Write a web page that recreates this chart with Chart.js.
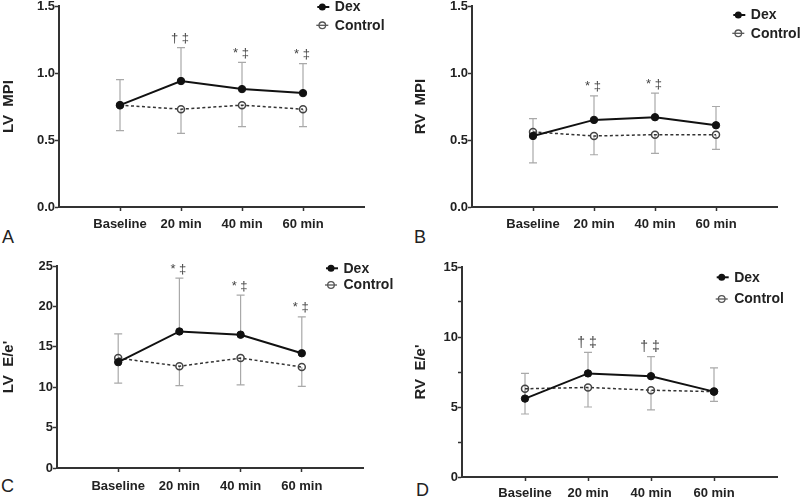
<!DOCTYPE html>
<html><head><meta charset="utf-8">
<script src="https://cdn.jsdelivr.net/npm/chart.js@4.4.1/dist/chart.umd.min.js"></script>
<style>
html,body{margin:0;padding:0;background:#fff;width:800px;height:499px;overflow:hidden;position:relative}
canvas{position:absolute}
.lbl{position:absolute;font:18px 'Liberation Sans',Arial,sans-serif;color:#222;line-height:18px}
</style></head><body>
<div class="lbl" style="left:2px;top:228px">A</div>
<div class="lbl" style="left:414px;top:228px">B</div>
<div class="lbl" style="left:1px;top:477px">C</div>
<div class="lbl" style="left:416px;top:481px">D</div>
<script>
const FAMILY = "'Liberation Sans', Arial, sans-serif";
const categories = ['Baseline', '20 min', '40 min', '60 min'];
const seriesNames = ['Dex', 'Control'];

// A: LV MPI
const lvMpiDex = [0.76, 0.94, 0.88, 0.85];
const lvMpiCtl = [0.76, 0.73, 0.76, 0.73];
const lvMpiDexUpper = [0.95, 1.19, 1.08, 1.07];
const lvMpiCtlLower = [0.57, 0.55, 0.60, 0.60];
const lvMpiMarks = ['', '† ‡', '* ‡', '* ‡'];
const lvMpiTicks = [0, 0.5, 1.0, 1.5];
const lvMpiTickLabels = ['0.0', '0.5', '1.0', '1.5'];

// B: RV MPI
const rvMpiDex = [0.53, 0.65, 0.67, 0.61];
const rvMpiCtl = [0.56, 0.53, 0.54, 0.54];
const rvMpiDexUpper = [0.66, 0.83, 0.85, 0.75];
const rvMpiCtlLower = [0.33, 0.39, 0.40, 0.43];
const rvMpiMarks = ['', '* ‡', '* ‡', ''];
const rvMpiTicks = [0, 0.5, 1.0, 1.5];
const rvMpiTickLabels = ['0.0', '0.5', '1.0', '1.5'];

// C: LV E/e'
const lvEeDex = [13.1, 16.9, 16.5, 14.2];
const lvEeCtl = [13.6, 12.6, 13.6, 12.5];
const lvEeDexUpper = [16.6, 23.5, 21.4, 18.7];
const lvEeCtlLower = [10.5, 10.2, 10.3, 10.1];
const lvEeMarks = ['', '* ‡', '* ‡', '* ‡'];
const lvEeTicks = [0, 5, 10, 15, 20, 25];
const lvEeTickLabels = ['0', '5', '10', '15', '20', '25'];

// D: RV E/e'
const rvEeDex = [5.6, 7.4, 7.2, 6.1];
const rvEeCtl = [6.3, 6.4, 6.2, 6.1];
const rvEeDexUpper = [7.4, 8.9, 8.6, 7.8];
const rvEeCtlLower = [4.5, 5.0, 4.8, 5.4];
const rvEeMarks = ['', '† ‡', '† ‡', ''];
const rvEeTicks = [0, 2.5, 5, 7.5, 10, 12.5, 15];
const rvEeTickLabels = ['0', '', '5', '', '10', '', '15'];

const panels = [
  {title: 'LV  MPI', dex: lvMpiDex, ctl: lvMpiCtl, up: lvMpiDexUpper, lo: lvMpiCtlLower, marks: lvMpiMarks,
   yTicks: lvMpiTicks, yLabels: lvMpiTickLabels, yMax: 1.5,
   cl: 0, padLeft: 0, area: {l: 59, t: 6, r: 364, b: 207}, xPad: 6, markSize: 13,
   legend: {dx: -41.7, dy1: 1, dy2: 19.3}},
  {title: 'RV  MPI', dex: rvMpiDex, ctl: rvMpiCtl, up: rvMpiDexUpper, lo: rvMpiCtlLower, marks: rvMpiMarks,
   yTicks: rvMpiTicks, yLabels: rvMpiTickLabels, yMax: 1.5,
   cl: 400, padLeft: 12, area: {l: 472, t: 6, r: 777, b: 207}, xPad: 6, markSize: 13,
   legend: {dx: -38.7, dy1: 9, dy2: 27.3}},
  {title: "LV  E/e'", dex: lvEeDex, ctl: lvEeCtl, up: lvEeDexUpper, lo: lvEeCtlLower, marks: lvEeMarks,
   yTicks: lvEeTicks, yLabels: lvEeTickLabels, yMax: 25,
   cl: 0, padLeft: 0, area: {l: 57, t: 266, r: 363, b: 468}, xPad: 7, markSize: 13,
   legend: {dx: -32, dy1: 2.3, dy2: 19}},
  {title: "RV  E/e'", dex: rvEeDex, ctl: rvEeCtl, up: rvEeDexUpper, lo: rvEeCtlLower, marks: rvEeMarks,
   yTicks: rvEeTicks, yLabels: rvEeTickLabels, yMax: 15,
   cl: 400, padLeft: 12, area: {l: 462, t: 267, r: 777, b: 477}, xPad: 5, markSize: 14,
   legend: {dx: -55.3, dy1: 10.3, dy2: 32}}
];

function makeExtras(p) {
  return {
    id: 'extras',
    beforeDatasetsDraw(chart) {
      const ctx = chart.ctx, xs = chart.scales.x, ys = chart.scales.y;
      ctx.save();
      ctx.strokeStyle = '#a9a9a9';
      ctx.lineWidth = 1.2;
      const seg = (x, y0, y1) => {
        ctx.beginPath();
        ctx.moveTo(x, y0); ctx.lineTo(x, y1);
        ctx.moveTo(x - 4, y1); ctx.lineTo(x + 4, y1);
        ctx.stroke();
      };
      p.dex.forEach((v, i) => {
        const x = xs.getPixelForValue(i + 1);
        seg(x, ys.getPixelForValue(v), ys.getPixelForValue(p.up[i]));
        seg(x, ys.getPixelForValue(p.ctl[i]), ys.getPixelForValue(p.lo[i]));
      });
      ctx.restore();
    },
    afterDatasetsDraw(chart) {
      const ctx = chart.ctx, xs = chart.scales.x, ys = chart.scales.y, ca = chart.chartArea;
      ctx.save();
      // significance marks
      ctx.fillStyle = '#444';
      ctx.font = p.markSize + 'px ' + FAMILY;
      ctx.textAlign = 'center';
      ctx.textBaseline = 'middle';
      p.marks.forEach((m, i) => {
        if (!m) return;
        const x = xs.getPixelForValue(i + 1) - 1;
        const y = ys.getPixelForValue(p.up[i]) - 9;
        ctx.fillText(m, x, y);
      });
      // legend
      const mx = ca.right + p.legend.dx;
      const rows = [ca.top + p.legend.dy1, ca.top + p.legend.dy2];
      ctx.textAlign = 'left';
      ctx.font = 'bold 14px ' + FAMILY;
      // Dex
      ctx.strokeStyle = '#111'; ctx.lineWidth = 2;
      ctx.beginPath(); ctx.moveTo(mx - 5, rows[0]); ctx.lineTo(mx + 7, rows[0]); ctx.stroke();
      ctx.fillStyle = '#111';
      ctx.beginPath(); ctx.arc(mx, rows[0], 3.5, 0, Math.PI * 2); ctx.fill();
      ctx.fillStyle = '#222';
      ctx.fillText(seriesNames[0], mx + 12.5, rows[0] + 0.5);
      // Control
      ctx.strokeStyle = '#555'; ctx.lineWidth = 1.3;
      ctx.beginPath(); ctx.moveTo(mx - 6, rows[1]); ctx.lineTo(mx + 6, rows[1]); ctx.stroke();
      ctx.beginPath(); ctx.arc(mx, rows[1], 3.3, 0, Math.PI * 2); ctx.stroke();
      ctx.fillStyle = '#222';
      ctx.fillText(seriesNames[1], mx + 12.5, rows[1] + 0.5);
      ctx.restore();
    }
  };
}

function build(p) {
  const ct = p.area.t - 20;
  const cw = 400, ch = p.area.b + 40 - ct;
  const cv = document.createElement('canvas');
  cv.width = cw; cv.height = ch;
  cv.style.left = p.cl + 'px'; cv.style.top = ct + 'px';
  cv.style.width = cw + 'px'; cv.style.height = ch + 'px';
  document.body.appendChild(cv);
  const tickFont = {family: FAMILY, size: 13, weight: 'bold'};
  new Chart(cv, {
    type: 'line',
    data: {
      datasets: [
        {label: seriesNames[0], data: p.dex.map((v, i) => ({x: i + 1, y: v})),
         borderColor: '#111', borderWidth: 2, pointRadius: 3.7, pointBackgroundColor: '#111',
         pointBorderColor: '#111', pointBorderWidth: 1, tension: 0},
        {label: seriesNames[1], data: p.ctl.map((v, i) => ({x: i + 1, y: v})),
         borderColor: '#333', borderWidth: 1.5, borderDash: [3, 2.5], pointRadius: 3.5,
         pointBackgroundColor: 'rgba(255,255,255,0)', pointBorderColor: '#444', pointBorderWidth: 1.5, tension: 0}
      ]
    },
    options: {
      responsive: false, animation: false, devicePixelRatio: 1,
      layout: {padding: {left: p.padLeft, top: 20, right: p.cl + 400 - p.area.r, bottom: 0}},
      plugins: {legend: {display: false}, tooltip: {enabled: false}},
      scales: {
        x: {
          type: 'linear', min: 0, max: 5,
          afterBuildTicks: s => { s.ticks = categories.map((c, i) => ({value: i + 1})); },
          afterFit: s => { s.height = 40; },
          ticks: {callback: (v, i) => categories[i], font: tickFont, color: '#222', padding: p.xPad,
                  maxRotation: 0, autoSkip: false},
          grid: {display: true, drawOnChartArea: false, drawTicks: true, tickLength: 4, tickColor: '#333', tickWidth: 1.5},
          border: {display: true, color: '#333', width: 2}
        },
        y: {
          type: 'linear', min: 0, max: p.yMax,
          afterBuildTicks: s => { s.ticks = p.yTicks.map(v => ({value: v})); },
          afterFit: s => { s.width = p.area.l - p.cl - p.padLeft; },
          ticks: {callback: (v, i) => p.yLabels[i], font: tickFont, color: '#222', padding: 0, autoSkip: false},
          grid: {display: true, drawOnChartArea: false, drawTicks: true, tickLength: 4, tickColor: '#333', tickWidth: 1.5},
          border: {display: true, color: '#333', width: 2},
          title: {display: true, text: p.title, font: {family: FAMILY, size: 15, weight: 'bold'}, color: '#222', padding: 0}
        }
      }
    },
    plugins: [makeExtras(p)]
  });
}
panels.forEach(build);
</script>
</body></html>
